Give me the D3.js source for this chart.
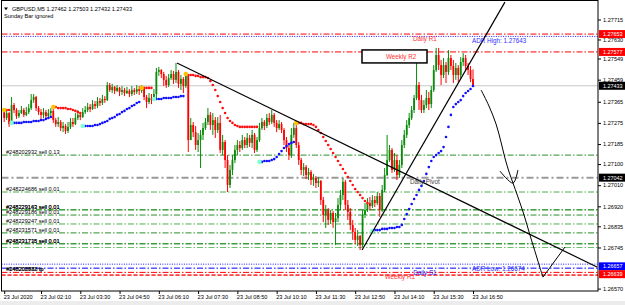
<!DOCTYPE html>
<html>
<head>
<meta charset="utf-8">
<script src="https://cdnjs.cloudflare.com/ajax/libs/d3/7.8.5/d3.min.js"></script>
<style>
  body { margin: 0; background: #fff; }
  svg { display: block; font-family: "Liberation Sans", Arial, sans-serif; }
</style>
</head>
<body>
<div id="chart"></div>
<script>
// values (GBPUSD M5, 23 Jul 2020)
var symbol = "GBPUSD,M5";
var note = "Sunday Bar ignored";

var opens = [
  1.27321,1.27296,1.27317,1.27270,1.27351,1.27330,1.27304,1.27317,1.27330,1.27309,
  1.27321,1.27338,1.27372,1.27385,1.27338,1.27321,1.27309,1.27321,1.27304,1.27317,
  1.27326,1.27287,1.27270,1.27279,1.27253,1.27262,1.27241,1.27258,1.27279,1.27270,
  1.27296,1.27309,1.27300,1.27321,1.27330,1.27343,1.27334,1.27355,1.27347,1.27368,
  1.27360,1.27377,1.27372,1.27436,1.27415,1.27428,1.27411,1.27424,1.27407,1.27415,
  1.27402,1.27411,1.27398,1.27415,1.27407,1.27419,1.27411,1.27424,1.27385,1.27364,
  1.27381,1.27372,1.27398,1.27492,1.27500,1.27483,1.27458,1.27436,1.27466,1.27483,
  1.27458,1.27492,1.27441,1.27462,1.27432,1.27475,1.27202,1.27266,1.27236,1.27181,
  1.27202,1.27224,1.27253,1.27279,1.27309,1.27266,1.27287,1.27245,1.27275,1.27160,
  1.27194,1.27117,1.27011,1.27075,1.27117,1.27160,1.27181,1.27168,1.27202,1.27181,
  1.27211,1.27190,1.27224,1.27160,1.27202,1.27253,1.27279,1.27262,1.27296,1.27279,
  1.27309,1.27275,1.27253,1.27270,1.27245,1.27202,1.27168,1.27138,1.27224,1.27253,
  1.27181,1.27117,1.27075,1.27087,1.27053,1.27066,1.27032,1.27041,1.27019,1.27028,
  1.26947,1.26883,1.26904,1.26862,1.26892,1.26853,1.26870,1.26926,1.26968,1.27024,
  1.26926,1.26896,1.26841,1.26811,1.26777,1.26794,1.26755,1.26883,1.26904,1.26934,
  1.26921,1.26947,1.26934,1.26964,1.26904,1.26990,1.27053,1.27117,1.27160,1.27075,
  1.27117,1.27053,1.27096,1.27181,1.27224,1.27266,1.27296,1.27330,1.27381,1.27436,
  1.27372,1.27330,1.27351,1.27381,1.27355,1.27415,1.27500,1.27564,1.27521,1.27479,
  1.27521,1.27492,1.27551,1.27517,1.27479,1.27509,1.27479,1.27534,1.27551,1.27517,
  1.27500,1.27462
];
var highs = [
  1.27330,1.27330,1.27321,1.27385,1.27360,1.27338,1.27330,1.27347,1.27338,1.27343,
  1.27355,1.27398,1.27398,1.27390,1.27347,1.27334,1.27338,1.27330,1.27334,1.27338,
  1.27338,1.27296,1.27300,1.27287,1.27279,1.27270,1.27279,1.27296,1.27296,1.27317,
  1.27330,1.27321,1.27338,1.27347,1.27360,1.27355,1.27372,1.27368,1.27385,1.27381,
  1.27394,1.27389,1.27449,1.27445,1.27441,1.27432,1.27436,1.27428,1.27432,1.27424,
  1.27428,1.27419,1.27432,1.27424,1.27436,1.27432,1.27436,1.27428,1.27394,1.27402,
  1.27398,1.27419,1.27509,1.27513,1.27504,1.27492,1.27475,1.27483,1.27500,1.27496,
  1.27530,1.27500,1.27479,1.27470,1.27492,1.27483,1.27296,1.27279,1.27262,1.27232,
  1.27245,1.27275,1.27296,1.27338,1.27321,1.27317,1.27300,1.27300,1.27309,1.27224,
  1.27202,1.27138,1.27096,1.27138,1.27181,1.27202,1.27198,1.27224,1.27215,1.27232,
  1.27224,1.27245,1.27232,1.27215,1.27275,1.27296,1.27287,1.27313,1.27317,1.27330,
  1.27317,1.27287,1.27287,1.27279,1.27253,1.27215,1.27181,1.27253,1.27275,1.27266,
  1.27194,1.27126,1.27104,1.27096,1.27083,1.27075,1.27058,1.27049,1.27045,1.27032,
  1.26960,1.26926,1.26913,1.26904,1.26900,1.26892,1.26955,1.26990,1.27041,1.27032,
  1.26947,1.26913,1.26862,1.26828,1.26819,1.26798,1.26904,1.26934,1.26955,1.26960,
  1.26968,1.26964,1.26981,1.26977,1.27011,1.27083,1.27224,1.27181,1.27168,1.27147,
  1.27138,1.27117,1.27202,1.27245,1.27287,1.27317,1.27347,1.27394,1.27577,1.27449,
  1.27394,1.27372,1.27415,1.27407,1.27432,1.27521,1.27594,1.27594,1.27543,1.27551,
  1.27534,1.27585,1.27564,1.27543,1.27530,1.27521,1.27555,1.27572,1.27564,1.27530,
  1.27517,1.27503
];
var lows = [
  1.27279,1.27287,1.27258,1.27266,1.27317,1.27292,1.27296,1.27313,1.27300,1.27304,
  1.27313,1.27330,1.27360,1.27326,1.27309,1.27292,1.27296,1.27292,1.27300,1.27304,
  1.27275,1.27258,1.27258,1.27241,1.27236,1.27228,1.27232,1.27249,1.27258,1.27266,
  1.27287,1.27287,1.27296,1.27313,1.27321,1.27321,1.27330,1.27334,1.27338,1.27347,
  1.27351,1.27360,1.27368,1.27407,1.27402,1.27398,1.27407,1.27389,1.27394,1.27389,
  1.27398,1.27385,1.27389,1.27394,1.27398,1.27394,1.27402,1.27372,1.27338,1.27355,
  1.27355,1.27368,1.27381,1.27475,1.27466,1.27432,1.27424,1.27428,1.27458,1.27441,
  1.27445,1.27424,1.27415,1.27402,1.27424,1.27151,1.27202,1.27215,1.27160,1.27151,
  1.27083,1.27202,1.27245,1.27266,1.27245,1.27224,1.27211,1.27232,1.27147,1.27138,
  1.27083,1.26981,1.26998,1.27053,1.27104,1.27138,1.27151,1.27160,1.27168,1.27168,
  1.27172,1.27168,1.27147,1.27151,1.27194,1.27245,1.27245,1.27253,1.27266,1.27270,
  1.27258,1.27236,1.27245,1.27232,1.27181,1.27151,1.27117,1.27126,1.27211,1.27168,
  1.27096,1.27053,1.27049,1.27036,1.27032,1.27011,1.27007,1.26998,1.27002,1.26926,
  1.26853,1.26828,1.26841,1.26845,1.26828,1.26755,1.26853,1.26904,1.26947,1.26904,
  1.26862,1.26819,1.26777,1.26760,1.26751,1.26734,1.26747,1.26870,1.26896,1.26904,
  1.26913,1.26917,1.26926,1.26875,1.26896,1.26981,1.27049,1.27109,1.27062,1.27066,
  1.27032,1.27041,1.27083,1.27168,1.27211,1.27253,1.27287,1.27317,1.27372,1.27330,
  1.27317,1.27317,1.27338,1.27330,1.27338,1.27407,1.27492,1.27500,1.27436,1.27466,
  1.27445,1.27479,1.27500,1.27445,1.27458,1.27449,1.27466,1.27517,1.27500,1.27479,
  1.27449,1.27432
];
var closes = [
  1.27296,1.27317,1.27270,1.27351,1.27330,1.27304,1.27317,1.27330,1.27309,1.27321,
  1.27338,1.27372,1.27385,1.27338,1.27321,1.27309,1.27321,1.27304,1.27317,1.27326,
  1.27287,1.27270,1.27279,1.27253,1.27262,1.27241,1.27258,1.27279,1.27270,1.27296,
  1.27309,1.27300,1.27321,1.27330,1.27343,1.27334,1.27355,1.27347,1.27368,1.27360,
  1.27377,1.27372,1.27436,1.27415,1.27428,1.27411,1.27424,1.27407,1.27415,1.27402,
  1.27411,1.27398,1.27415,1.27407,1.27419,1.27411,1.27424,1.27385,1.27364,1.27381,
  1.27372,1.27398,1.27492,1.27500,1.27483,1.27458,1.27436,1.27466,1.27483,1.27458,
  1.27492,1.27441,1.27462,1.27432,1.27475,1.27202,1.27266,1.27236,1.27181,1.27202,
  1.27224,1.27253,1.27279,1.27309,1.27266,1.27287,1.27245,1.27275,1.27160,1.27194,
  1.27117,1.27011,1.27075,1.27117,1.27160,1.27181,1.27168,1.27202,1.27181,1.27211,
  1.27190,1.27224,1.27160,1.27202,1.27253,1.27279,1.27262,1.27296,1.27279,1.27309,
  1.27275,1.27253,1.27270,1.27245,1.27202,1.27168,1.27138,1.27224,1.27253,1.27181,
  1.27117,1.27075,1.27087,1.27053,1.27066,1.27032,1.27041,1.27019,1.27028,1.26947,
  1.26883,1.26904,1.26862,1.26892,1.26853,1.26870,1.26926,1.26968,1.27024,1.26926,
  1.26896,1.26841,1.26811,1.26777,1.26794,1.26755,1.26883,1.26904,1.26934,1.26921,
  1.26947,1.26934,1.26964,1.26904,1.26990,1.27053,1.27117,1.27160,1.27075,1.27117,
  1.27053,1.27096,1.27181,1.27224,1.27266,1.27296,1.27330,1.27381,1.27436,1.27372,
  1.27330,1.27351,1.27381,1.27355,1.27415,1.27500,1.27564,1.27521,1.27479,1.27521,
  1.27492,1.27551,1.27517,1.27479,1.27509,1.27479,1.27534,1.27551,1.27517,1.27500,
  1.27462,1.27433
];

// trailing stop dots: [first bar, values]
var redStops = [
  [0, [1.27330,1.27330,1.27330]],
  [20, [1.27343,1.27343,1.27338,1.27338,1.27338,1.27338,1.27334,1.27334,1.27330,1.27326,1.27321,1.27317]],
  [56, [1.27424,1.27424,1.27424,1.27424,1.27424]],
  [74, [1.27483,1.27479,1.27479,1.27479,1.27475,1.27475,1.27470,1.27470,1.27470,1.27466,
        1.27453,1.27436,1.27415,1.27389,1.27364,1.27338,1.27317,1.27296,1.27283,1.27275,
        1.27266,1.27262,1.27258,1.27258,1.27258,1.27258,1.27258,1.27258,1.27258,1.27258]],
  [119, [1.27275,1.27275,1.27275,1.27270,1.27270,1.27270,1.27270,1.27266,1.27258,1.27245,
         1.27232,1.27215,1.27198,1.27181,1.27164,1.27147,1.27130,1.27113,1.27096,1.27079,
         1.27062,1.27045,1.27028,1.27011,1.26994,1.26981,1.26968,1.26955,1.26943,1.26934]]
];
var blueStops = [
  [3, [1.27275,1.27275,1.27275,1.27275,1.27275,1.27279,1.27279,1.27279,1.27279,1.27283,
       1.27283,1.27283,1.27287,1.27287,1.27292,1.27296,1.27300]],
  [32, [1.27262,1.27262,1.27262,1.27262,1.27262,1.27266,1.27266,1.27270,1.27275,1.27279,
        1.27283,1.27292,1.27296,1.27300,1.27309,1.27313,1.27321,1.27326,1.27334,1.27338,
        1.27347,1.27351,1.27360,1.27364]],
  [61, [1.27377,1.27377,1.27377,1.27377,1.27381,1.27381,1.27381,1.27381,1.27385,1.27385,
        1.27385,1.27389,1.27389]],
  [104, [1.27109,1.27109,1.27113,1.27113,1.27113,1.27117,1.27121,1.27130,1.27143,1.27155,
         1.27168,1.27177,1.27185,1.27190,1.27194]],
  [150, [1.26815,1.26819,1.26819,1.26819,1.26824,1.26824,1.26824,1.26828,1.26828,1.26828,
         1.26832,1.26832,1.26841,1.26866,1.26887,1.26909,1.26930,1.26951,1.26968,1.26990,
         1.27007,1.27028,1.27058,1.27087,1.27113,1.27130,1.27138,1.27147,1.27155,1.27172,
         1.27215,1.27258,1.27309,1.27343,1.27355,1.27364,1.27372,1.27389,1.27402,1.27411,
         1.27419,1.27432]]
];

var timeTickBars = [0, 15, 31, 47, 63, 79, 95, 111, 127, 143, 159, 175, 191];
var timeLabels = ["23 Jul 2020", "23 Jul 02:10", "23 Jul 03:30", "23 Jul 04:50", "23 Jul 06:10",
  "23 Jul 07:30", "23 Jul 08:50", "23 Jul 10:10", "23 Jul 11:30", "23 Jul 12:50",
  "23 Jul 14:10", "23 Jul 15:30", "23 Jul 16:50"];
var priceTicks = [1.27715, 1.27630, 1.27549, 1.27459, 1.27365, 1.27275, 1.27185, 1.27100,
  1.27010, 1.26920, 1.26835, 1.26745, 1.26570];

var levelNames = ["Daily R1", "ADR High", "Weekly R2", "Daily Pivot", "ADR Low", "Daily S1", "Weekly R1"];
var levelPrices = [1.27653, 1.27643, 1.27577, 1.27042, 1.26674, 1.26657, 1.26639];

var orderNames = ["#248202932 sell 0.13", "#248224686 sell 0.01", "#248229143 sell 0.01",
  "#248229163 sell 0.01", "#248229186 sell 0.01", "#248229247 sell 0.01",
  "#248231571 sell 0.01", "#248231718 sell 0.01", "#248231735 sell 0.01"];
var orderPrices = [1.27138, 1.26981, 1.26906, 1.26904, 1.26883, 1.26845, 1.26807, 1.26762, 1.26760];
var tpNames = ["#248202932 tp", "#248208888 tp"];
var tpPrices = [1.26628, 1.26627];

// trend lines drawn on the chart: [bar, price] anchors
var trendLines = [
  [[70.4, 1.27530], [241.5, 1.26662]],
  [[145.8, 1.26734], [204.0, 1.27789]]
];
// freehand arrow on the right
var sketchStrokes = [
  [[194.3,1.27415],[197.5,1.27347],[200.4,1.27270],[202.4,1.27194],[204.0,1.27126],[205.7,1.27066],
   [207.3,1.27019],[209.3,1.26960],[211.8,1.26883],[214.2,1.26798],[216.7,1.26713],[218.3,1.26658],[219.5,1.26619]],
  [[202.0,1.27070],[207.3,1.27019],[209.3,1.27075]],
  [[219.5,1.26619],[228.5,1.26747]]
];

var L = 1.5, T = 0.5, R = 598, B = 291;
var svg = d3.select("#chart").append("svg").attr("width", 625).attr("height", 305);

var x = d3.scaleLinear().domain([0, 191]).range([4.2, 473]);
var y = d3.scaleLinear().domain([1.26570, 1.27715]).range([288.6, 19.5]);

svg.append("rect").attr("x", 0).attr("y", 0).attr("width", 625).attr("height", 305).attr("fill", "#fff");
svg.append("rect").attr("x", 0).attr("y", 301).attr("width", 625).attr("height", 4).attr("fill", "#ececec");

svg.append("defs").append("clipPath").attr("id", "pc").append("rect")
  .attr("x", L).attr("y", T).attr("width", R - L).attr("height", B - T);
var g = svg.append("g").attr("clip-path", "url(#pc)");

function hline(p, col, dash, w) {
  g.append("line").attr("x1", L).attr("x2", R).attr("y1", y(p)).attr("y2", y(p))
    .attr("stroke", col).attr("stroke-width", w).attr("stroke-dasharray", dash);
}

// bid line
hline(closes[closes.length - 1], "#c8c8c8", null, 1);

// order lines
orderPrices.forEach(function (p, k) {
  hline(p, k % 2 ? "#4caf4c" : "#2a8f2a", "6,2,1.5,2", 1);
});
hline(1.26745, "#6cbf6c", "6,2,1.5,2", 1);
tpPrices.forEach(function (p) { hline(p, "#ff2020", "4,2", 1); });

// pivot levels
var lvStyle = {
  "Daily R1":    {c: "#ff0000", d: "6,2,1.5,2", w: 1, tc: "#ff3030", at: 171.4, anchor: "middle"},
  "ADR High":    {c: "#2020ff", d: "1,1.4",     w: 1, tc: "#3030ff", at: 190.6, anchor: "start"},
  "Weekly R2":   {c: "#ff0000", d: "6,2,1.5,2", w: 1, tc: "#ff3030", at: 161.7, anchor: "middle"},
  "Daily Pivot": {c: "#9a9a9a", d: "7,3,2,3",   w: 2, tc: "#444",    at: 171.4, anchor: "middle"},
  "ADR Low":     {c: "#2020ff", d: "1,1.4",     w: 1, tc: "#3030ff", at: 190.6, anchor: "start"},
  "Daily S1":    {c: "#0000ff", d: "6,2,1.5,2", w: 1, tc: "#2020ff", at: 171.4, anchor: "middle"},
  "Weekly R1":   {c: "#ff0000", d: "6,2,1.5,2", w: 1, tc: "#ff3030", at: 161.2, anchor: "middle"}
};
levelNames.forEach(function (n, k) {
  var s = lvStyle[n];
  hline(levelPrices[k], s.c, s.d, s.w);
});

// candles
var bull = "#0a8a0a", bear = "#ff0000";
var bars = d3.range(closes.length);
function col(i) { return closes[i] >= opens[i] ? bull : bear; }
g.append("g").selectAll("line").data(bars).join("line")
  .attr("x1", function (i) { return x(i); }).attr("x2", function (i) { return x(i); })
  .attr("y1", function (i) { return y(highs[i]); }).attr("y2", function (i) { return y(lows[i]); })
  .attr("stroke", col).attr("stroke-width", 1);
g.append("g").selectAll("rect").data(bars).join("rect")
  .attr("x", function (i) { return x(i) - 0.9; }).attr("width", 1.8)
  .attr("y", function (i) { return y(Math.max(opens[i], closes[i])); })
  .attr("height", function (i) { return Math.max(0.8, Math.abs(y(opens[i]) - y(closes[i]))); })
  .attr("fill", col);

// trailing stop dots
function drawStops(segs, c, first) {
  segs.forEach(function (s) {
    var gg = g.append("g");
    gg.selectAll("circle").data(s[1]).join("circle")
      .attr("cx", function (v, k) { return x(s[0] + k); })
      .attr("cy", function (v) { return y(v); })
      .attr("r", 1.3).attr("fill", c);
    gg.append("circle").attr("cx", x(s[0])).attr("cy", y(s[1][0])).attr("r", 2.3).attr("fill", first);
  });
}
drawStops(redStops, "#ff1010", "#ffc400");
drawStops(blueStops, "#1010ff", "#7fffd4");

// trend lines and freehand arrow
trendLines.forEach(function (t) {
  g.append("line").attr("x1", x(t[0][0])).attr("y1", y(t[0][1]))
    .attr("x2", x(t[1][0])).attr("y2", y(t[1][1]))
    .attr("stroke", "#000").attr("stroke-width", 1.2);
});
var sk = d3.line().x(function (d) { return x(d[0]); }).y(function (d) { return y(d[1]); })
  .curve(d3.curveCatmullRom);
sketchStrokes.forEach(function (s) {
  g.append("path").attr("d", sk(s)).attr("fill", "none").attr("stroke", "#000").attr("stroke-width", 1);
});

// level labels
levelNames.forEach(function (n, k) {
  var s = lvStyle[n], p = levelPrices[k];
  var txt = n.indexOf("ADR") === 0 ? n + ": " + p.toFixed(5) : n;
  if (n === "Weekly R2") {
    g.append("rect").attr("x", 362).attr("y", y(p) - 2).attr("width", 65).attr("height", 13)
      .attr("fill", "#fff").attr("stroke", "#000").attr("stroke-width", 1.5);
  }
  g.append("text").attr("x", x(s.at)).attr("y", y(p) + 6.6).attr("text-anchor", s.anchor)
    .attr("font-size", 6.3).attr("fill", s.tc).text(txt);
});

// order labels
orderNames.forEach(function (n, k) {
  g.append("text").attr("x", 6).attr("y", y(orderPrices[k]) - 0.8)
    .attr("font-size", 5.6).attr("fill", "#000").text(n);
});
tpNames.forEach(function (n, k) {
  g.append("text").attr("x", 6 + k * 0.4).attr("y", y(tpPrices[k]) - 4)
    .attr("font-size", 5.6).attr("fill", "#000").text(n);
});

// header
svg.append("path").attr("d", "M4,7.6L8,7.6L6,10.2Z").attr("fill", "#000");
var last = closes.length - 1;
svg.append("text").attr("x", 12).attr("y", 10.5).attr("font-size", 5.6).attr("fill", "#000")
  .text(symbol + "  " + [opens[last], highs[last], lows[last], closes[last]].map(function (v) { return v.toFixed(5); }).join(" "));
svg.append("text").attr("x", 4).attr("y", 17.8).attr("font-size", 5.6).attr("fill", "#000").text(note);

// frame
svg.append("rect").attr("x", L).attr("y", T).attr("width", R - L).attr("height", B - T)
  .attr("fill", "none").attr("stroke", "#000").attr("stroke-width", 1);

// price axis
var ya = d3.axisRight(y).tickValues(priceTicks).tickSize(3).tickPadding(2)
  .tickFormat(function (d) { return d.toFixed(5); });
var yg = svg.append("g").attr("transform", "translate(" + R + ",0)").call(ya);
yg.select(".domain").remove();
yg.selectAll("text").attr("font-size", 5.6).attr("fill", "#000").attr("font-family", "Liberation Sans, Arial");
yg.selectAll("line").attr("stroke", "#000");

// time axis
var xa = d3.axisBottom(x).tickValues(timeTickBars).tickSize(3).tickPadding(1)
  .tickFormat(function (d, k) { return timeLabels[k]; });
var xg = svg.append("g").attr("transform", "translate(0," + B + ")").call(xa);
xg.select(".domain").remove();
xg.selectAll("text").attr("font-size", 5.6).attr("fill", "#000").attr("text-anchor", "start")
  .attr("dx", -1).attr("font-family", "Liberation Sans, Arial");
xg.selectAll("line").attr("stroke", "#000");

// price boxes on the axis (the two lowest are nudged apart so both stay readable)
var boxPrices = [levelPrices[0], levelPrices[2], closes[last], levelPrices[3], levelPrices[5], levelPrices[6]];
var boxFill = ["#ff0000", "#ff0000", "#000", "#000", "#0000ff", "#ff0000"];
var boxNudge = [0, 0, 0, 0, -1.8, 1.8];
boxPrices.forEach(function (p, k) {
  var cy = y(p) + boxNudge[k];
  svg.append("rect").attr("x", R + 1).attr("y", cy - 4).attr("width", 27).attr("height", 8).attr("fill", boxFill[k]);
  svg.append("text").attr("x", R + 5).attr("y", cy + 2).attr("font-size", 5.4).attr("fill", "#fff")
    .text(p.toFixed(5));
});
</script>
</body>
</html>
